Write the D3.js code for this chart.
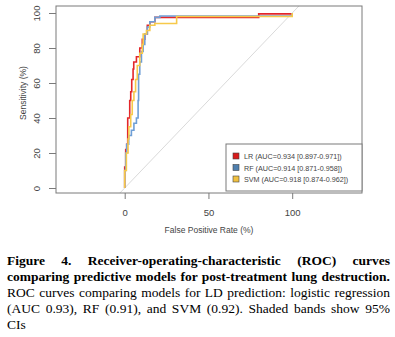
<!DOCTYPE html>
<html>
<head>
<meta charset="utf-8">
<script src="https://cdn.jsdelivr.net/npm/d3@7"></script>
<style>
  body { margin: 0; background: #fff; width: 395px; height: 337px; overflow: hidden; position: relative; }
  svg { position: absolute; left: 0; top: 0; }
  .cap { position: absolute; left: 7px; width: 383px; font-family: "Liberation Serif", "Times New Roman", serif;
         font-size: 13.5px; line-height: 16px; color: #000; }
  .cap div { text-align: justify; text-align-last: justify; white-space: nowrap; }
  .cap div.last { text-align-last: left; }
  .cap b { font-weight: bold; }
</style>
</head>
<body>
<script>
// ROC curves: each point is [false positive rate, sensitivity] in %, step after
var lrRoc = [[0,0],[0,12],[0.6,22],[1.2,25],[1.8,33],[1.8,40],[3,50],[3.6,55],[4.2,62],[5,68],[5.4,72],
             [7,75],[9,80],[10.5,85],[12,88],[13.5,93],[15,95],[18,97.5],[80,99.5],[100,100]];
var rfRoc  = [[0,0],[0,10],[0.6,20],[1.2,25],[2.4,30],[4,33],[5.5,37],[7,40],[8,50],[8.3,65],[9,72],
              [10,78],[11,82],[12,88],[13.5,92],[15,95],[18,97.5],[21,98.3],[100,100]];
var svmRoc = [[0,0],[0,10],[1,20],[2,28],[2.5,35],[3.6,42],[4.5,50],[5.5,55],[6.5,62],[7.5,70],[9,77],
              [10.5,82],[11,88],[13,90],[15,93],[18,94],[31,98],[100,100]];

var models = ["LR", "RF", "SVM"];
var legendLabels = ["LR (AUC=0.934 [0.897-0.971])", "RF (AUC=0.914 [0.871-0.958])", "SVM (AUC=0.918 [0.874-0.962])"];
var xTicks = [0, 50, 100];
var yTicks = [0, 20, 40, 60, 80, 100];

var lineColors = {LR: "#e3262a", RF: "#6f9fd6", SVM: "#f7c94a"};
var boxColors  = {LR: "#d81c1c", RF: "#4f7fae", SVM: "#f0c040"};

var W = 395, H = 250;
var box = {left: 56, right: 362, top: 6, bottom: 193};

var x = d3.scaleLinear().domain([0, 100]).range([124.7, 292.2]);
var y = d3.scaleLinear().domain([0, 100]).range([188, 13]);

var svg = d3.select("body").append("svg").attr("width", W).attr("height", H);

svg.append("clipPath").attr("id", "plotclip")
  .append("rect").attr("x", box.left).attr("y", box.top)
  .attr("width", box.right - box.left).attr("height", box.bottom - box.top);

var plot = svg.append("g").attr("clip-path", "url(#plotclip)");

// chance diagonal across the whole panel
plot.append("line")
  .attr("x1", x(-50)).attr("y1", y(-50))
  .attr("x2", x(150)).attr("y2", y(150))
  .attr("stroke", "#dadada").attr("stroke-width", 1);

var line = d3.line()
  .x(function(d){ return x(d[0]); })
  .y(function(d){ return y(d[1]); })
  .curve(d3.curveStepAfter);

var curves = {LR: lrRoc, RF: rfRoc, SVM: svmRoc};
models.forEach(function(m){
  plot.append("path")
    .datum(curves[m])
    .attr("d", line)
    .attr("fill", "none")
    .attr("stroke", lineColors[m])
    .attr("stroke-width", 1.6);
});

// frame
svg.append("rect")
  .attr("x", box.left).attr("y", box.top)
  .attr("width", box.right - box.left).attr("height", box.bottom - box.top)
  .attr("fill", "none").attr("stroke", "#7a7a7a").attr("stroke-width", 1);

var axisFont = "'Liberation Sans', Arial, sans-serif";

var yAxis = svg.append("g")
  .attr("transform", "translate(" + box.left + ",0)")
  .call(d3.axisLeft(y).tickValues(yTicks).tickSize(7).tickPadding(0));
yAxis.select(".domain").remove();
yAxis.selectAll(".tick line").attr("stroke", "#7a7a7a");
yAxis.selectAll(".tick text")
  .attr("x", 0).attr("dy", null)
  .attr("transform", "translate(-16,0) rotate(-90)")
  .attr("text-anchor", "middle")
  .attr("font-family", axisFont).attr("font-size", 9.5).attr("fill", "#444");

var xAxis = svg.append("g")
  .attr("transform", "translate(0," + box.bottom + ")")
  .call(d3.axisBottom(x).tickValues(xTicks).tickSize(6).tickPadding(10));
xAxis.select(".domain").remove();
xAxis.selectAll(".tick line").attr("stroke", "#7a7a7a");
xAxis.selectAll(".tick text")
  .attr("font-family", axisFont).attr("font-size", 9.5).attr("fill", "#444");

svg.append("text")
  .attr("x", (box.left + box.right) / 2).attr("y", 233)
  .attr("text-anchor", "middle")
  .attr("font-family", axisFont).attr("font-size", 8.5).attr("fill", "#444")
  .text("False Positive Rate (%)");

svg.append("text")
  .attr("transform", "translate(26,93) rotate(-90)")
  .attr("text-anchor", "middle")
  .attr("font-family", axisFont).attr("font-size", 8.5).attr("fill", "#444")
  .text("Sensitivity (%)");

// legend
var lg = svg.append("g").attr("transform", "translate(226,144)");
lg.append("rect").attr("width", 136).attr("height", 47)
  .attr("fill", "#fff").attr("stroke", "#7a7a7a").attr("stroke-width", 1);
models.forEach(function(m, i){
  var row = lg.append("g").attr("transform", "translate(0," + (12 + i * 11.5) + ")");
  row.append("rect").attr("x", 7).attr("y", -3).attr("width", 6).attr("height", 6)
    .attr("fill", boxColors[m]).attr("stroke", "#444").attr("stroke-width", 0.6);
  row.append("text").attr("x", 18).attr("y", 3)
    .attr("font-family", axisFont).attr("font-size", 7.2).attr("fill", "#444")
    .text(legendLabels[i]);
});

// caption
var cap = d3.select("body").append("div").attr("class", "cap").style("top", "253px");
cap.append("div").html("<b>Figure 4. Receiver-operating-characteristic (ROC) curves</b>");
cap.append("div").html("<b>comparing predictive models for post-treatment lung destruction.</b>");
cap.append("div").text("ROC curves comparing models for LD prediction: logistic regression");
cap.append("div").text("(AUC 0.93), RF (0.91), and SVM (0.92). Shaded bands show 95%");
cap.append("div").attr("class", "last").text("CIs");
</script>
</body>
</html>
